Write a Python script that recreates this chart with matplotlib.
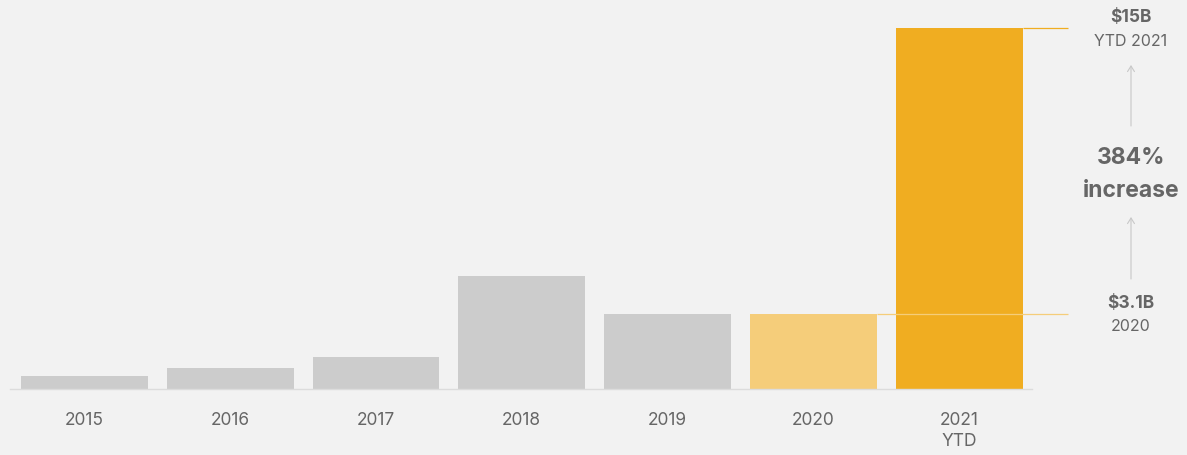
import matplotlib
matplotlib.use("Agg")
import matplotlib.pyplot as plt

years = ["2015", "2016", "2017", "2018", "2019", "2020", "2021\nYTD"]
values = [0.54, 0.84, 1.3, 4.67, 3.08, 3.1, 15.0]
colors = ["#cccccc", "#cccccc", "#cccccc", "#cccccc", "#cccccc", "#f5cd7a", "#f0ad21"]
top_label = "$15B"
top_sub = "YTD 2021"
mid_label = "384%"
mid_sub = "increase"
low_label = "$3.1B"
low_sub = "2020"

W, H = 1187, 456
BG = "#f2f2f2"
TXT = "#666666"
plt.rcParams['font.family'] = ['Inter', 'DejaVu Sans']

fig = plt.figure(figsize=(W / 100, H / 100), dpi=100, facecolor=BG)
ax = fig.add_axes([10 / W, 1 - 389.5 / H, (1032 - 10) / W, (389.5 - 29) / H])
ax.set_facecolor(BG)

x = list(range(len(years)))
bw = 0.87
ax.bar(x, values, width=bw, color=colors, zorder=2)
ax.set_xlim(-0.51, 6.5)
ax.set_ylim(0, 15)

for s in ["top", "right", "left"]:
    ax.spines[s].set_visible(False)
ax.spines["bottom"].set_color("#dcdcdc")
ax.spines["bottom"].set_linewidth(1.0)
ax.set_yticks([])
ax.set_xticks(x)
ax.set_xticklabels(years, fontsize=12.5, color=TXT, linespacing=1.3)
ax.tick_params(axis="x", length=0, pad=16)

# reference lines
ax.hlines(values[6], 6 + bw / 2, 6.75, color="#f0ad21", lw=0.9, clip_on=False, zorder=3)
ax.hlines(values[5], 5 + bw / 2, 6.75, color="#f5cd7a", lw=0.9, clip_on=False, zorder=3)

def fx(px):
    return px / W

def fy(py):
    return 1 - py / H

cx = 1131
fig.text(fx(cx), fy(17), top_label, ha="center", va="center", fontsize=12.5, fontweight="bold", color=TXT)
fig.text(fx(cx), fy(42), top_sub, ha="center", va="center", fontsize=11.5, color=TXT)
fig.text(fx(cx), fy(158), mid_label, ha="center", va="center", fontsize=16.5, fontweight="bold", color=TXT)
fig.text(fx(cx), fy(191), mid_sub, ha="center", va="center", fontsize=16.5, fontweight="bold", color=TXT)
fig.text(fx(cx), fy(303), low_label, ha="center", va="center", fontsize=12.5, fontweight="bold", color=TXT)
fig.text(fx(cx), fy(327), low_sub, ha="center", va="center", fontsize=11.5, color=TXT)

for y0, y1 in [(127, 66), (280, 218)]:
    fig.add_artist(matplotlib.patches.FancyArrowPatch(
        (fx(cx), fy(y0)), (fx(cx), fy(y1)), transform=fig.transFigure,
        arrowstyle="->,head_length=4,head_width=2.5", color="#c8c8c8", lw=0.8,
        shrinkA=0, shrinkB=0))

fig.savefig("out.png", dpi=100, facecolor=BG)
